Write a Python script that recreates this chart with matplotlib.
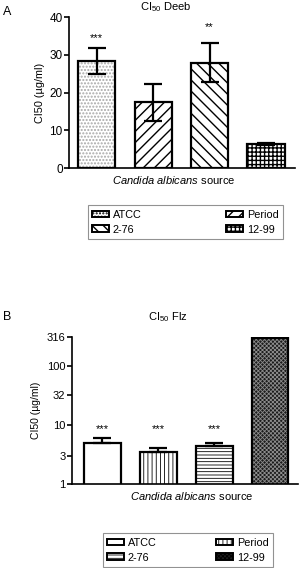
import matplotlib
matplotlib.use("Agg")
import matplotlib.pyplot as plt
import numpy as np

plt.rcParams['font.family'] = ['Liberation Sans', 'DejaVu Sans']
plt.rcParams['mathtext.fontset'] = 'custom'
plt.rcParams['mathtext.rm'] = 'Liberation Sans'
plt.rcParams['mathtext.it'] = 'Liberation Sans:italic'
plt.rcParams['axes.linewidth'] = 1.2
plt.rcParams['hatch.linewidth'] = 1.0

# data
strains = ['ATCC', 'Period', '2-76', '12-99']
deeb_mean = [28.3, 17.4, 27.9, 6.3]
deeb_err = [3.5, 4.8, 5.2, 0.3]
deeb_sig = ['***', '', '**', '']
deeb_sig_y = [35.2, None, 37.9, None]
flz_mean = [5.0, 3.5, 4.4, 300]
flz_err = [1.0, 0.55, 0.6, 0]
flz_sig = ['***', '***', '***', '']
flz_ticks = [1, 3, 10, 32, 100, 316]

# (face, hatch, hatch colour) per strain
style_a = [('white', '.....', '#a8a8a8'), ('white', '///', 'black'),
           ('white', '\\\\\\', 'black'), ('white', '++++', 'black')]
style_b = [('white', '', 'black'), ('white', '||||', 'black'),
           ('white', '-----', 'black'), ('#1c1c1c', 'xxxxxxxx', '#8c8c8c')]

fig = plt.figure(figsize=(3.0, 5.68), dpi=100)


def bars(ax, x, vals, styles, hatch_lw):
    for xi, v, (fc, h, hc) in zip(x, vals, styles):
        b = ax.bar(xi, v, width=0.66, color=fc, edgecolor=hc, hatch=h,
                   linewidth=0, zorder=2)
        for p in b:
            if hasattr(p, 'set_hatch_linewidth'):
                p.set_hatch_linewidth(hatch_lw)
        ax.bar(xi, v, width=0.66, fill=False, edgecolor='black',
               linewidth=1.6, zorder=3)


def legend(fig, rect, styles, hatch_lw):
    handles = []
    for (fc, h, hc) in styles:
        handles.append(matplotlib.patches.Patch(facecolor=fc, edgecolor=hc, hatch=h))
    order = [0, 2, 1, 3]
    leg = fig.legend([handles[i] for i in order], [strains[i] for i in order],
                     loc='lower left', bbox_to_anchor=rect, mode='expand',
                     ncol=2, fontsize=7.8, frameon=True, fancybox=False,
                     edgecolor='#777777', handlelength=1.5, handleheight=0.6,
                     handletextpad=0.4, borderpad=0.4, labelspacing=0.45,
                     borderaxespad=0)
    leg.get_frame().set_linewidth(0.8)
    for p in leg.get_patches():
        p.set_edgecolor('black')
        p.set_linewidth(1.4)
        if hasattr(p, 'set_hatch_linewidth'):
            p.set_hatch_linewidth(hatch_lw)
    return leg


x = np.arange(len(strains))

# ---- panel A
axA = fig.add_axes([0.23, 0.704, 0.753, 0.266])
bars(axA, x, deeb_mean, style_a, 1.0)
axA.errorbar(x, deeb_mean, yerr=deeb_err, fmt='none', ecolor='black',
             elinewidth=1.6, capsize=6.5, capthick=1.6, zorder=4)
for xi, s, yy in zip(x, deeb_sig, deeb_sig_y):
    if s:
        axA.annotate(s, (xi, yy), xytext=(0, -4), textcoords='offset points',
                     ha='center', va='baseline', fontsize=8)
axA.set_xlim(-0.49, 3.51)
axA.set_ylim(0, 40)
axA.set_yticks([0, 10, 20, 30, 40])
axA.set_xticks([])
axA.spines[['top', 'right']].set_visible(False)
axA.tick_params(axis='y', labelsize=8.5, length=3.5, width=1.2, pad=1)
axA.set_ylabel('CI50 (µg/ml)', fontsize=7.8, labelpad=3)
fig.text(166 / 300, 1 - 7 / 568, 'CI$_{50}$ Deeb', ha='center', va='center', fontsize=8)
fig.text(174 / 300, 1 - 180 / 568, r'$\it{Candida\ albicans}$ source',
         ha='center', va='center', fontsize=8)
fig.text(3 / 300, 1 - 12 / 568, 'A', ha='left', va='center', fontsize=9)
legend(fig, (88 / 300, 1 - 239 / 568, 195 / 300, 38 / 568), style_a, 1.0)

# ---- panel B
axB = fig.add_axes([0.239, 0.148, 0.754, 0.259])
bars(axB, x, flz_mean, style_b, 0.6)
axB.errorbar(x[:3], flz_mean[:3], yerr=[np.zeros(3), flz_err[:3]], fmt='none',
             ecolor='black', elinewidth=1.6, capsize=6.5, capthick=1.6, zorder=4)
for xi, s in zip(x, flz_sig):
    if s:
        axB.annotate(s, (xi, 0.39), xycoords=('data', 'axes fraction'),
                     xytext=(0, -4), textcoords='offset points',
                     ha='center', va='baseline', fontsize=8)
axB.set_yscale('log')
axB.set_xlim(-0.55, 3.5)
axB.set_ylim(1, 316)
axB.set_yticks(flz_ticks)
axB.set_yticklabels([str(t) for t in flz_ticks])
axB.yaxis.set_minor_locator(matplotlib.ticker.NullLocator())
axB.set_xticks([])
axB.spines[['top', 'right']].set_visible(False)
axB.tick_params(axis='y', labelsize=8, length=3.5, width=1.2, pad=1)
axB.set_ylabel('CI50 (µg/ml)', fontsize=7.5, labelpad=4)
fig.text(168 / 300, 1 - 317 / 568, 'CI$_{50}$ Flz', ha='center', va='center', fontsize=8)
fig.text(192 / 300, 1 - 496 / 568, r'$\it{Candida\ albicans}$ source',
         ha='center', va='center', fontsize=8)
fig.text(3 / 300, 1 - 317 / 568, 'B', ha='left', va='center', fontsize=9)
legend(fig, (103 / 300, 1 - 567 / 568, 170 / 300, 35 / 568), style_b, 0.6)

fig.savefig('out.png', dpi=100)
